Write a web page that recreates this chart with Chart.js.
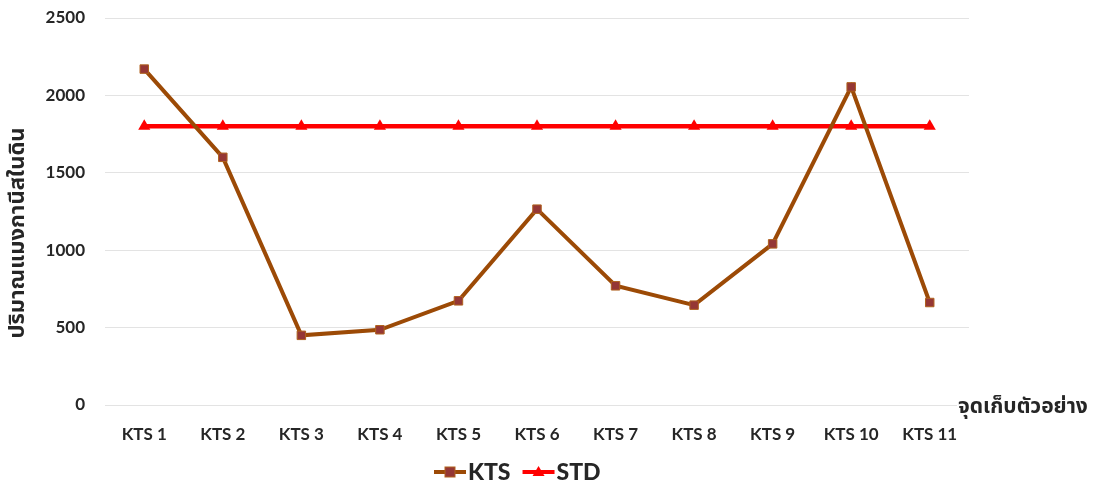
<!DOCTYPE html>
<html>
<head>
<meta charset="utf-8">
<script src="https://cdn.jsdelivr.net/npm/chart.js@4"></script>
<style>
  html, body { margin: 0; padding: 0; background: #fff; }
  #wrap { width: 1094px; height: 483px; }
</style>
</head>
<body>
<div id="wrap"><canvas id="c" width="1094" height="483"></canvas></div>
<script>
// Sampling points and manganese amounts in soil
const categories = ['KTS 1', 'KTS 2', 'KTS 3', 'KTS 4', 'KTS 5', 'KTS 6', 'KTS 7', 'KTS 8', 'KTS 9', 'KTS 10', 'KTS 11'];
const ktsValues = [2170, 1600, 450, 486, 673, 1265, 770, 645, 1041, 2055, 662];
const stdValues = [1800, 1800, 1800, 1800, 1800, 1800, 1800, 1800, 1800, 1800, 1800];
const yTicks = [0, 500, 1000, 1500, 2000, 2500];
const yTitle = 'ปริมาณแมงกานีสในดิน';
const xTitle = 'จุดเก็บตัวอย่าง';

const LATIN = 'Lato, "Noto Sans", sans-serif';
const THAI = '"Noto Sans Thai", "Noto Sans", "DejaVu Sans", sans-serif';
const TEXT = '#262626';

// axis titles: the y title runs up the left edge, the x title sits right of the plot at the zero line
const axisTitlePlugin = {
  id: 'axisTitles',
  afterDraw(chart) {
    const ctx = chart.ctx;
    const y0 = chart.scales.y.getPixelForValue(0);
    ctx.save();
    ctx.font = 'bold 21px ' + THAI;
    const w = ctx.measureText(xTitle).width;
    ctx.fillStyle = '#fff';
    ctx.fillRect(957, y0 - 14, w + 6, 28);
    ctx.fillStyle = TEXT;
    ctx.textAlign = 'left';
    ctx.textBaseline = 'middle';
    ctx.fillText(xTitle, 958, y0 + 4);

    ctx.font = 'bold 22px ' + THAI;
    ctx.translate(20, 233);
    ctx.rotate(-Math.PI / 2);
    ctx.textAlign = 'center';
    ctx.textBaseline = 'middle';
    ctx.fillText(yTitle, 0, 0);
    ctx.restore();
  }
};

// legend: line segment with the series marker, then the label
const legendPlugin = {
  id: 'lineLegend',
  afterDraw(chart) {
    const ctx = chart.ctx;
    const y = 472;
    let x = 434;
    ctx.save();
    ctx.font = '900 23px ' + LATIN;
    ctx.textBaseline = 'middle';
    chart.data.datasets.forEach((ds) => {
      ctx.strokeStyle = ds.borderColor;
      ctx.lineWidth = 4;
      ctx.beginPath();
      ctx.moveTo(x, y);
      ctx.lineTo(x + 32, y);
      ctx.stroke();
      const cx = x + 16;
      ctx.fillStyle = ds.pointBackgroundColor;
      ctx.strokeStyle = ds.pointBorderColor;
      ctx.lineWidth = 1;
      if (ds.pointStyle === 'rect') {
        ctx.fillRect(cx - 5, y - 5, 10, 10);
        ctx.strokeRect(cx - 5, y - 5, 10, 10);
      } else {
        ctx.beginPath();
        ctx.moveTo(cx, y - 6);
        ctx.lineTo(cx + 6, y + 4);
        ctx.lineTo(cx - 6, y + 4);
        ctx.closePath();
        ctx.fill();
      }
      ctx.fillStyle = TEXT;
      ctx.fillText(ds.label, x + 34, y + 1);
      x += 34 + ctx.measureText(ds.label).width + 12;
    });
    ctx.restore();
  }
};

new Chart(document.getElementById('c'), {
  type: 'line',
  data: {
    labels: categories,
    datasets: [
      {
        label: 'KTS',
        data: ktsValues,
        borderColor: '#9C4A06',
        borderWidth: 4,
        pointStyle: 'rect',
        pointRadius: 6,
        pointBackgroundColor: '#953735',
        pointBorderColor: '#B0621E',
        pointBorderWidth: 1,
        tension: 0,
        order: 1
      },
      {
        label: 'STD',
        data: stdValues,
        borderColor: '#FF0000',
        borderWidth: 4.5,
        pointStyle: 'triangle',
        pointRadius: 7,
        pointBackgroundColor: '#FF0000',
        pointBorderColor: '#FF0000',
        pointBorderWidth: 0,
        tension: 0,
        order: 2
      }
    ]
  },
  options: {
    responsive: false,
    devicePixelRatio: 1,
    animation: false,
    layout: { autoPadding: false, padding: { top: 0, right: 125, bottom: 0, left: 0 } },
    plugins: {
      legend: { display: false },
      tooltip: { enabled: false }
    },
    scales: {
      x: {
        offset: true,
        grid: { display: false, drawTicks: false },
        border: { display: false },
        ticks: {
          color: TEXT,
          font: { family: LATIN, size: 17, weight: 'bold' },
          padding: 19,
          maxRotation: 0,
          autoSkip: false
        },
        afterFit(scale) { scale.height = 78; }
      },
      y: {
        min: 0,
        max: 2500,
        afterBuildTicks(scale) { scale.ticks = yTicks.map(v => ({ value: v })); },
        grid: { color: '#E3E3E3', lineWidth: 1, drawTicks: false },
        border: { display: false },
        ticks: {
          color: TEXT,
          font: { family: LATIN, size: 17, weight: 'bold' },
          padding: 20,
          callback: (v) => String(v)
        },
        afterFit(scale) {
          scale.width = 105;
          scale.paddingTop = 18;
        }
      }
    }
  },
  plugins: [axisTitlePlugin, legendPlugin]
});
</script>
</body>
</html>
